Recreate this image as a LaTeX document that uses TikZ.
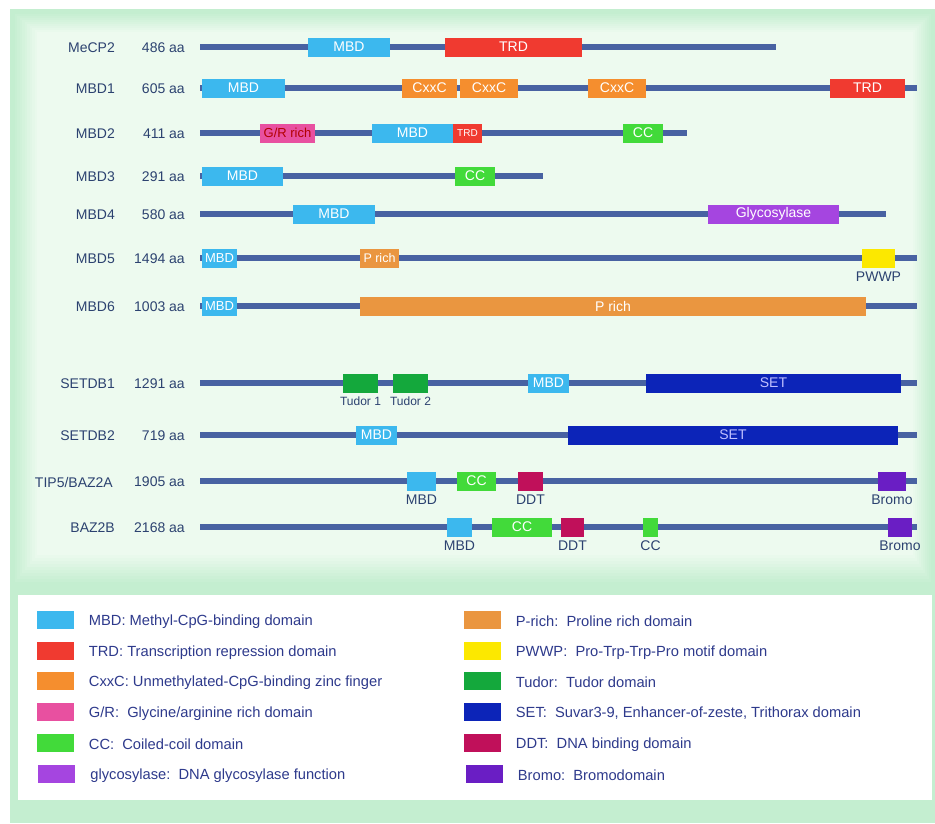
\documentclass[tikz,border=0pt]{standalone}
\usepackage{fontspec}
\setmainfont{Liberation Sans}
\usetikzlibrary{positioning}
\pgfdeclarelayer{bglayer}
\pgfdeclarelayer{edgelayer}
\pgfsetlayers{bglayer,edgelayer,main}
\definecolor{greenedge}{RGB}{196,238,208}
\definecolor{greenmid}{RGB}{237,250,239}
\definecolor{backbone}{RGB}{72,98,162}
\definecolor{labelblue}{RGB}{44,66,112}
\definecolor{legendblue}{RGB}{46,58,140}
\definecolor{cmbd}{RGB}{60,184,238}
\definecolor{ctrd}{RGB}{240,58,48}
\definecolor{ccxxc}{RGB}{245,142,46}
\definecolor{cgr}{RGB}{232,80,160}
\definecolor{ccc}{RGB}{66,218,58}
\definecolor{cglyco}{RGB}{165,69,224}
\definecolor{cprich}{RGB}{234,150,64}
\definecolor{cpwwp}{RGB}{252,232,0}
\definecolor{ctudor}{RGB}{20,168,60}
\definecolor{cset}{RGB}{12,36,184}
\definecolor{cddt}{RGB}{192,16,90}
\definecolor{cbromo}{RGB}{106,30,196}
\tikzset{
    none/.style = {inner sep=0pt},
    chain/.style = {draw=backbone, line width=5.5pt},
    dom/.style = {inner sep=0pt, minimum height=19pt, text=white, font=\fontsize{14}{16}\selectfont},
    protname/.style = {inner sep=0pt, anchor=east, yshift=-1pt, text=labelblue, font=\fontsize{14}{16}\selectfont},
    aalen/.style = {inner sep=0pt, anchor=east, yshift=-1pt, text=labelblue, font=\fontsize{14}{16}\selectfont},
    under/.style = {inner sep=0pt, text=labelblue, font=\fontsize{14}{16}\selectfont},
    swatch/.style = {inner sep=0pt, minimum width=37pt, minimum height=18pt},
    keytext/.style = {inner sep=0pt, yshift=-1.5pt, text=legendblue, font=\fontsize{14.7}{16}\selectfont}
}

\begin{document}
\begin{tikzpicture}[x=1pt, y=-1pt]
    \useasboundingbox (0,0) rectangle (935,823);
    \begin{pgfonlayer}{bglayer}
        \fill [white] (0,0) rectangle (935,823);
        \fill [greenedge] (10,9) rectangle (935,823);
        % soft light panel behind the proteins
        \foreach \k [evaluate=\k as \p using int(\k*10)] in {0,...,10}
            \fill [greenmid!\p!greenedge] (12+2.5*\k, 12+2*\k) rectangle (933-2*\k, 585-3*\k);
        \fill [white] (18,595) rectangle (932,800);
    \end{pgfonlayer}

    % protein names and lengths
    \node [protname] (n1) at (115,47) {MeCP2};
    \node [aalen] (l1) at (185,47) {486 aa};
    \node [protname] (n2) at (115,88) {MBD1};
    \node [aalen] (l2) at (185,88) {605 aa};
    \node [protname] (n3) at (115,133) {MBD2};
    \node [aalen] (l3) at (185,133) {411 aa};
    \node [protname] (n4) at (115,176) {MBD3};
    \node [aalen] (l4) at (185,176) {291 aa};
    \node [protname] (n5) at (115,214) {MBD4};
    \node [aalen] (l5) at (185,214) {580 aa};
    \node [protname] (n6) at (115,258) {MBD5};
    \node [aalen] (l6) at (185,258) {1494 aa};
    \node [protname] (n7) at (115,306) {MBD6};
    \node [aalen] (l7) at (185,306) {1003 aa};
    \node [protname] (n8) at (115,383) {SETDB1};
    \node [aalen] (l8) at (185,383) {1291 aa};
    \node [protname] (n9) at (115,435) {SETDB2};
    \node [aalen] (l9) at (185,435) {719 aa};
    \node [protname] (n10) at (113,481) {TIP5/BAZ2A};
    \node [aalen] (l10) at (185,481) {1905 aa};
    \node [protname] (n11) at (115,527) {BAZ2B};
    \node [aalen] (l11) at (185,527) {2168 aa};

    % backbones
    \coordinate (s1) at (200,47);  \coordinate (e1) at (776,47);
    \coordinate (s2) at (200,88);  \coordinate (e2) at (917,88);
    \coordinate (s3) at (200,133); \coordinate (e3) at (687,133);
    \coordinate (s4) at (200,176); \coordinate (e4) at (543,176);
    \coordinate (s5) at (200,214); \coordinate (e5) at (886,214);
    \coordinate (s6) at (200,258); \coordinate (e6) at (917,258);
    \coordinate (s7) at (200,306); \coordinate (e7) at (917,306);
    \coordinate (s8) at (200,383); \coordinate (e8) at (917,383);
    \coordinate (s9) at (200,435); \coordinate (e9) at (917,435);
    \coordinate (s10) at (200,481); \coordinate (e10) at (917,481);
    \coordinate (s11) at (200,527); \coordinate (e11) at (917,527);
    \begin{pgfonlayer}{edgelayer}
        \draw [chain] (s1) to (e1);
        \draw [chain] (s2) to (e2);
        \draw [chain] (s3) to (e3);
        \draw [chain] (s4) to (e4);
        \draw [chain] (s5) to (e5);
        \draw [chain] (s6) to (e6);
        \draw [chain] (s7) to (e7);
        \draw [chain] (s8) to (e8);
        \draw [chain] (s9) to (e9);
        \draw [chain] (s10) to (e10);
        \draw [chain] (s11) to (e11);
    \end{pgfonlayer}

    % domains
    \node [dom, fill=cmbd, minimum width=82pt] (d1a) at (349,47) {MBD};
    \node [dom, fill=ctrd, minimum width=137pt] (d1b) at (513.5,47) {TRD};

    \node [dom, fill=cmbd, minimum width=83pt] (d2a) at (243.5,88) {MBD};
    \node [dom, fill=ccxxc, minimum width=55pt] (d2b) at (429.5,88) {CxxC};
    \node [dom, fill=ccxxc, minimum width=58pt] (d2c) at (489,88) {CxxC};
    \node [dom, fill=ccxxc, minimum width=58pt] (d2d) at (617,88) {CxxC};
    \node [dom, fill=ctrd, minimum width=75pt] (d2e) at (867.5,88) {TRD};

    \node [dom, fill=cgr, minimum width=55pt, text=red!70!black, font=\fontsize{13}{15}\selectfont] (d3a) at (287.5,133) {G/R rich};
    \node [dom, fill=cmbd, minimum width=81pt] (d3b) at (412.5,133) {MBD};
    \node [dom, fill=ctrd, minimum width=29pt, font=\fontsize{10}{12}\selectfont] (d3c) at (467.5,133) {TRD};
    \node [dom, fill=ccc, minimum width=40pt] (d3d) at (643,133) {CC};

    \node [dom, fill=cmbd, minimum width=81pt] (d4a) at (242.5,176) {MBD};
    \node [dom, fill=ccc, minimum width=40pt] (d4b) at (475,176) {CC};

    \node [dom, fill=cmbd, minimum width=82pt] (d5a) at (334,214) {MBD};
    \node [dom, fill=cglyco, minimum width=131pt] (d5b) at (773.5,214) {Glycosylase};

    \node [dom, fill=cmbd, minimum width=35pt, font=\fontsize{13}{15}\selectfont] (d6a) at (219.5,258) {MBD};
    \node [dom, fill=cprich, minimum width=39pt, font=\fontsize{12.5}{15}\selectfont] (d6b) at (379.5,258) {P rich};
    \node [dom, fill=cpwwp, minimum width=33pt] (d6c) at (878.5,258) {};
    \node [under, below=3.5pt of d6c] (t6c) {PWWP};

    \node [dom, fill=cmbd, minimum width=35pt, font=\fontsize{13}{15}\selectfont] (d7a) at (219.5,306) {MBD};
    \node [dom, fill=cprich, minimum width=506pt] (d7b) at (613,306) {P rich};

    \node [dom, fill=ctudor, minimum width=35pt] (d8a) at (360.5,383) {};
    \node [dom, fill=ctudor, minimum width=35pt] (d8b) at (410.5,383) {};
    \node [under, below=4pt of d8a, font=\fontsize{12}{14}\selectfont] (t8a) {Tudor 1};
    \node [under, below=4pt of d8b, font=\fontsize{12}{14}\selectfont] (t8b) {Tudor 2};
    \node [dom, fill=cmbd, minimum width=41pt] (d8c) at (548.5,383) {MBD};
    \node [dom, fill=cset, minimum width=255pt, text=blue!25!white] (d8d) at (773.5,383) {SET};

    \node [dom, fill=cmbd, minimum width=41pt] (d9a) at (376.5,435) {MBD};
    \node [dom, fill=cset, minimum width=330pt, text=blue!25!white] (d9b) at (733,435) {SET};

    \node [dom, fill=cmbd, minimum width=29pt] (d10a) at (421.5,481) {};
    \node [dom, fill=ccc, minimum width=39pt] (d10b) at (476.5,481) {CC};
    \node [dom, fill=cddt, minimum width=25pt] (d10c) at (530.5,481) {};
    \node [dom, fill=cbromo, minimum width=28pt] (d10d) at (892,481) {};
    \node [under, below=3.5pt of d10a] (t10a) {MBD};
    \node [under, below=3.5pt of d10c] (t10c) {DDT};
    \node [under, below=3.5pt of d10d] (t10d) {Bromo};

    \node [dom, fill=cmbd, minimum width=25pt] (d11a) at (459.5,527) {};
    \node [dom, fill=ccc, minimum width=60pt] (d11b) at (522,527) {CC};
    \node [dom, fill=cddt, minimum width=23pt] (d11c) at (572.5,527) {};
    \node [dom, fill=ccc, minimum width=15pt] (d11d) at (650.5,527) {};
    \node [dom, fill=cbromo, minimum width=24pt] (d11e) at (900,527) {};
    \node [under, below=3.5pt of d11a] (t11a) {MBD};
    \node [under, below=3.5pt of d11c] (t11c) {DDT};
    \node [under, below=3.5pt of d11d] (t11d) {CC};
    \node [under, below=3.5pt of d11e] (t11e) {Bromo};

    % legend
    \node [swatch, fill=cmbd] (k1) at (55,620) {};
    \node [keytext, right=15pt of k1] (k1t) {MBD: Methyl-CpG-binding domain};
    \node [swatch, fill=ctrd] (k2) at (55,651) {};
    \node [keytext, right=15pt of k2] (k2t) {TRD: Transcription repression domain};
    \node [swatch, fill=ccxxc] (k3) at (55,681) {};
    \node [keytext, right=15pt of k3] (k3t) {CxxC: Unmethylated-CpG-binding zinc finger};
    \node [swatch, fill=cgr] (k4) at (55,712) {};
    \node [keytext, right=15pt of k4] (k4t) {G/R:\ \ Glycine/arginine rich domain};
    \node [swatch, fill=ccc] (k5) at (55,743) {};
    \node [keytext, right=15pt of k5] (k5t) {CC:\ \ Coiled-coil domain};
    \node [swatch, fill=cglyco] (k6) at (56.5,774) {};
    \node [keytext, right=15pt of k6] (k6t) {glycosylase:\ \ DNA glycosylase function};

    \node [swatch, fill=cprich] (k7) at (482,620) {};
    \node [keytext, right=15pt of k7] (k7t) {P-rich:\ \ Proline rich domain};
    \node [swatch, fill=cpwwp] (k8) at (482,651) {};
    \node [keytext, right=15pt of k8] (k8t) {PWWP:\ \ Pro-Trp-Trp-Pro motif domain};
    \node [swatch, fill=ctudor] (k9) at (482,681) {};
    \node [keytext, right=15pt of k9] (k9t) {Tudor:\ \ Tudor domain};
    \node [swatch, fill=cset] (k10) at (482,712) {};
    \node [keytext, right=15pt of k10] (k10t) {SET:\ \ Suvar3-9, Enhancer-of-zeste, Trithorax domain};
    \node [swatch, fill=cddt] (k11) at (482,743) {};
    \node [keytext, right=15pt of k11] (k11t) {DDT:\ \ DNA binding domain};
    \node [swatch, fill=cbromo] (k12) at (484,774) {};
    \node [keytext, right=15pt of k12] (k12t) {Bromo:\ \ Bromodomain};
\end{tikzpicture}
\end{document}
